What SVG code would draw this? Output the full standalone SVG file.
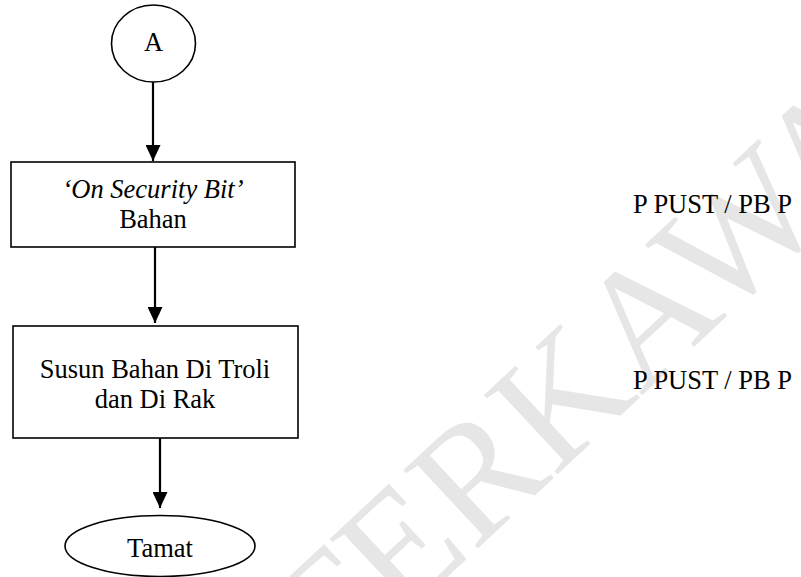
<svg xmlns="http://www.w3.org/2000/svg" width="801" height="577" viewBox="0 0 801 577">
<style>
.t{font-family:"Liberation Serif","Times New Roman",serif;font-size:26.5px;fill:#000}
.c{text-anchor:middle}
.s{fill:#fff;stroke:#000;stroke-width:1.6}
.e{stroke:#000;stroke-width:2.2;fill:none}
.wm{font-family:"Liberation Serif","Times New Roman",serif;font-size:165px;fill:#e6e6e6}
</style>
<defs>
<marker id="ah" markerUnits="userSpaceOnUse" markerWidth="16" markerHeight="15" refX="16" refY="7.5" orient="auto">
<path d="M0,0 L16,7.5 L0,15 z" fill="#000"/>
</marker>
</defs>
<rect width="801" height="577" fill="#fff"/>
<g id="watermark">
<text class="wm" transform="translate(326,690) rotate(-43)">TERKAWAL</text>
</g>
<g id="connectors">
<line class="e" x1="153" y1="82" x2="153" y2="161" marker-end="url(#ah)"/>
<line class="e" x1="155" y1="247" x2="155" y2="323" marker-end="url(#ah)"/>
<line class="e" x1="160" y1="438" x2="160" y2="508" marker-end="url(#ah)"/>
</g>
<g id="nodeA">
<ellipse class="s" cx="153.5" cy="43.5" rx="42" ry="38.5"/>
<text class="t c" x="153.5" y="51">A</text>
</g>
<g id="node1">
<rect class="s" x="11" y="162" width="284" height="85"/>
<text class="t c" x="153" y="198" font-style="italic">‘On Security Bit’</text>
<text class="t c" x="153" y="228">Bahan</text>
</g>
<g id="node2">
<rect class="s" x="13" y="326" width="285" height="112"/>
<text class="t c" x="155" y="378">Susun Bahan Di Troli</text>
<text class="t c" x="155" y="408">dan Di Rak</text>
</g>
<g id="nodeEnd">
<ellipse class="s" cx="160" cy="546" rx="95" ry="30.5"/>
<text class="t c" x="160" y="557">Tamat</text>
</g>
<g id="labels">
<text class="t" x="633" y="213">P PUST / PB P</text>
<text class="t" x="633" y="389">P PUST / PB P</text>
</g>
</svg>
